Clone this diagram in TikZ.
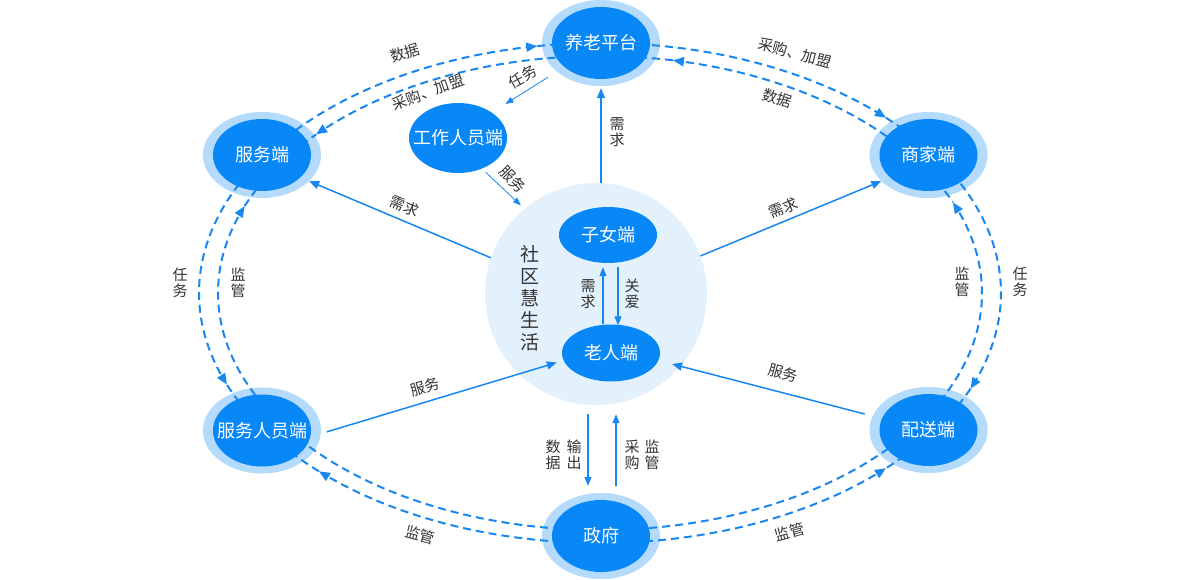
\documentclass[tikz,border=0pt]{standalone}
\usepackage{fontspec}
\setmainfont{Noto Sans CJK SC}
\usetikzlibrary{arrows.meta,shapes.geometric}
\definecolor{nodeblue}{RGB}{8,135,247}
\definecolor{ringblue}{RGB}{180,218,252}
\definecolor{circbg}{RGB}{227,241,253}
\definecolor{linecol}{RGB}{25,135,240}
\definecolor{txt}{RGB}{51,51,51}
\tikzset{
  ringnode/.style={ellipse, fill=ringblue, minimum width=118pt, minimum height=86pt, inner sep=0pt},
  inode/.style={ellipse, fill=nodeblue, minimum width=98pt, minimum height=72pt, inner sep=0pt, text=white, font=\fontsize{18}{20}\selectfont},
  lbl/.style={text=txt, font=\fontsize{15}{16}\selectfont, inner sep=0pt},
  vlbl/.style={lbl, align=center},
  dashline/.style={draw=linecol, line width=2pt, dash pattern=on 8pt off 5pt},
  dtipend/.style={-{Triangle[length=11pt,width=9pt]}},
  dtipstart/.style={{Triangle[length=11pt,width=9pt]}-},
  conn/.style={draw=linecol, line width=1.5pt, -{Triangle[length=10pt,width=8pt]}},
  thinconn/.style={draw=linecol, line width=0.8pt, -{Triangle[length=8pt,width=6pt]}},
}
% outer ellipse arc and inner ellipse arc
\newcommand{\outarc}[3][]{\draw[dashline,#1] plot[domain=#2:#3, samples=50, smooth] ({600+401*cos(\x)},{293+250*sin(\x)});}
\newcommand{\inarc}[3][]{\draw[dashline,#1] plot[domain=#2:#3, samples=50, smooth] ({600+382*cos(\x)},{293+237*sin(\x)});}
\newcommand{\ntext}[1]{\makebox[0pt]{#1}}
\begin{document}
\begin{tikzpicture}[x=1pt,y=-1pt]
\useasboundingbox (0,0) rectangle (1200,580);
\fill[white] (0,0) rectangle (1200,580);

% community circle
\node[circle, fill=circbg, minimum size=222pt, inner sep=0pt] (C) at (596,294) {};

% rings
\node[ringnode] (Pr) at (601,43) {};
\node[ringnode] (S1r) at (262,155) {};
\node[ringnode] (Mr) at (928.5,155) {};
\node[ringnode] (S2r) at (262,430.5) {};
\node[ringnode] (Dr) at (928.5,430) {};
\node[ringnode] (Gr) at (601,536) {};

% dashed arcs
% 服务端 <-> 养老平台
\outarc[dtipend]{-146.5}{-99}
\outarc{-99}{-90}
\inarc[dtipstart]{-138}{-90}
\inarc{-146.5}{-138}
% 养老平台 <-> 商家端
\outarc[dtipend]{-90}{-44.5}
\outarc{-44.5}{-33.5}
\inarc[dtipstart]{-79}{-33.5}
\inarc{-90}{-79}
% 商家端 <-> 配送端
\outarc[dtipend]{-33.5}{22.5}
\outarc{22.5}{33.5}
\inarc[dtipstart]{-22.5}{33.5}
\inarc{-33.5}{-22.5}
% 政府 <-> 配送端
\outarc[dtipstart]{44.5}{90}
\outarc{33.5}{44.5}
\inarc{33.5}{90}
% 政府 <-> 服务人员端
\outarc[dtipend]{90}{134.5}
\outarc{134.5}{146.5}
\inarc{90}{146.5}
% 服务端 <-> 服务人员端
\outarc[dtipstart]{158.5}{213.5}
\outarc{146.5}{158.5}
\inarc[dtipend]{146.5}{201.5}
\inarc{201.5}{213.5}

% inner nodes
\node[inode] (P) at (601,43) {\ntext{养老平台}};
\node[inode] (S1) at (262,155) {\ntext{服务端}};
\node[inode] (M) at (928.5,155) {\ntext{商家端}};
\node[inode] (S2) at (262,430.5) {\ntext{服务人员端}};
\node[inode] (D) at (928.5,430) {\ntext{配送端}};
\node[inode] (G) at (601,536) {\ntext{政府}};
\node[inode, minimum height=70pt] (W) at (458,138) {\ntext{工作人员端}};
\node[inode, minimum height=56pt] (Z) at (608,235) {\ntext{子女端}};
\node[inode, minimum height=57pt] (O) at (611,353) {\ntext{老人端}};

\node[vlbl, font=\fontsize{19}{22}\selectfont] (title) at (530,298) {社\\区\\慧\\生\\活};

% straight connectors
\draw[conn] (P.south |- C.north) -- ([yshift=-2pt]Pr.south);
\draw[conn] (C.161) -- (S1r.-29);
\draw[conn] (C.20) -- (Mr.209.5);
\draw[conn, shorten <=8pt, shorten >=14pt] (Dr.166) -- (O.-9);
\draw[conn, shorten <=6pt, shorten >=7pt] (S2r.-3) -- (O.189.5);
\draw[thinconn, shorten <=10.5pt, shorten >=16pt] (Pr.213.4) -- (W.37.5);
\draw[thinconn, shorten <=5pt, shorten >=5pt] (W.-52.4) -- (C.130.5);
\draw[conn, line width=1.3pt, -{Triangle[length=9pt,width=7pt]}] ([xshift=-8pt]O.north) -- ([xshift=-5pt,yshift=-4pt]Z.south);
\draw[conn, line width=1.3pt, -{Triangle[length=9pt,width=7pt]}] ([xshift=10pt,yshift=-4pt]Z.south) -- ([xshift=7pt,yshift=-1pt]O.north);
\draw[conn, line width=1.3pt, -{Triangle[length=9pt,width=7pt]}] ([xshift=-8pt,yshift=-9pt]C.south) -- ([xshift=-13pt,yshift=7pt]Gr.north);
\draw[conn, line width=1.3pt, -{Triangle[length=9pt,width=7pt]}] ([xshift=15pt,yshift=7pt]Gr.north) -- ([xshift=20pt,yshift=-9pt]C.south);

% labels
\node[lbl, rotate=17] (l1) at (405,53) {数据};
\node[lbl, rotate=20] (l2) at (428,92) {采购、加盟};
\node[lbl, rotate=-15] (l3) at (795,53) {采购、加盟};
\node[lbl, rotate=-17] (l4) at (777,98) {数据};
\node[lbl, rotate=29] (l5) at (523,77) {任务};
\node[vlbl] (l6) at (617,132) {需\\求};
\node[lbl, rotate=-45] (l7) at (513,179) {服务};
\node[lbl, rotate=-22.6] (l8) at (405,206) {需求};
\node[lbl, rotate=22] (l9) at (783,208) {需求};
\node[vlbl] (l10) at (588,294) {需\\求};
\node[vlbl] (l11) at (632,294) {关\\爱};
\node[lbl, rotate=17] (l12) at (425,387) {服务};
\node[lbl, rotate=-15] (l13) at (783,373) {服务};
\node[vlbl] (l14) at (180,283) {任\\务};
\node[vlbl] (l15) at (238,283) {监\\管};
\node[vlbl] (l16) at (962,282) {监\\管};
\node[vlbl] (l17) at (1020,282) {任\\务};
\node[lbl, rotate=-15] (l18) at (420,535) {监管};
\node[lbl, rotate=15] (l19) at (790,532) {监管};
\node[vlbl] (l20) at (553,455) {数\\据};
\node[vlbl] (l21) at (574,455) {输\\出};
\node[vlbl] (l22) at (632,455) {采\\购};
\node[vlbl] (l23) at (652,455) {监\\管};
\end{tikzpicture}
\end{document}
